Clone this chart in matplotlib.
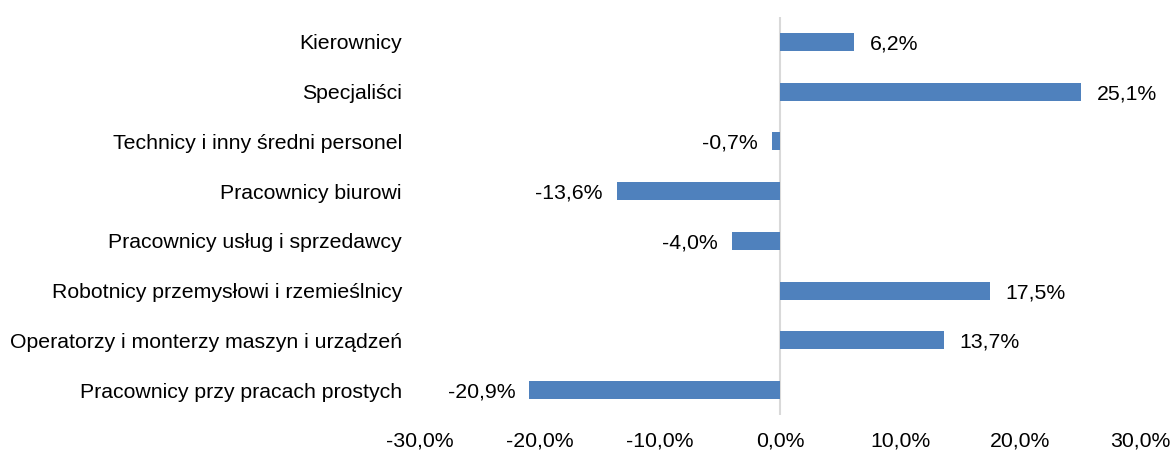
import matplotlib
matplotlib.use("Agg")
import matplotlib.pyplot as plt
from matplotlib.ticker import FuncFormatter

plt.rcParams['font.family'] = ['Liberation Sans', 'DejaVu Sans']

categories = [
    "Kierownicy",
    "Specjaliści",
    "Technicy i inny średni personel",
    "Pracownicy biurowi",
    "Pracownicy usług i sprzedawcy",
    "Robotnicy przemysłowi i rzemieślnicy",
    "Operatorzy i monterzy maszyn i urządzeń",
    "Pracownicy przy pracach prostych",
]
values = [6.2, 25.1, -0.7, -13.6, -4.0, 17.5, 13.7, -20.9]
x_ticks = [-30, -20, -10, 0, 10, 20, 30]

FS = 15.3

def fmt(v):
    return f"{v:.1f}".replace(".", ",") + "%"

fig = plt.figure(figsize=(11.74, 4.50), dpi=100)
ax = fig.add_axes([420/1174, 1 - 415/450, 720/1174, 398/450])

pos = list(range(len(categories)))
ax.barh(pos, values, height=0.36, color="#4F81BD", zorder=2)
ax.set_ylim(len(categories) - 0.5, -0.5)
ax.set_xlim(-30, 30)
ax.axvline(0, color="#D9D9D9", lw=1.5, zorder=1)

for p, v in zip(pos, values):
    if v >= 0:
        ax.annotate(fmt(v), (v, p), xytext=(11, -1.5), textcoords="offset points",
                    ha="left", va="center", fontsize=FS, color="#000000")
    else:
        ax.annotate(fmt(v), (v, p), xytext=(-10, -1.5), textcoords="offset points",
                    ha="right", va="center", fontsize=FS, color="#000000")

ax.set_yticks(pos)
ax.set_yticklabels(categories, fontsize=FS)
ax.set_xticks(x_ticks)
ax.xaxis.set_major_formatter(FuncFormatter(lambda v, _: fmt(v)))
ax.tick_params(axis="x", length=0, pad=12, labelsize=FS)
ax.tick_params(axis="y", length=0, pad=13)
for s in ax.spines.values():
    s.set_visible(False)

fig.savefig("out.png", dpi=100)
